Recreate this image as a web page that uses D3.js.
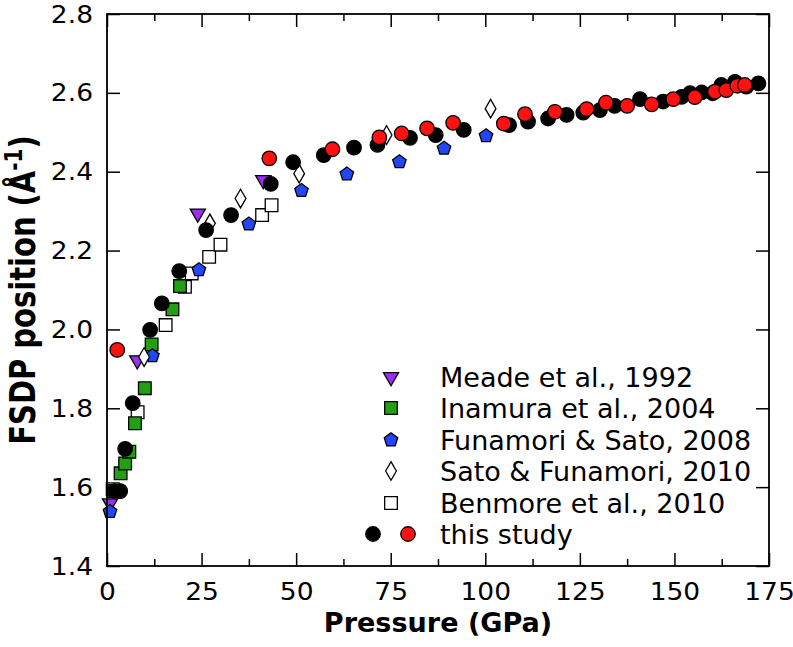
<!DOCTYPE html>
<html>
<head>
<meta charset="utf-8">
<script src="https://cdn.jsdelivr.net/npm/d3@7"></script>
<style>
  html, body { margin: 0; padding: 0; background: #fff; }
  svg { display: block; }
  text { font-family: "DejaVu Sans", sans-serif; fill: #000; }
</style>
</head>
<body>
<svg id="chart" width="793" height="647"></svg>
<script>
// ---------- data ----------
const xTicks = [0, 25, 50, 75, 100, 125, 150, 175];
const xMinorTicks = [12.5, 37.5, 62.5, 87.5, 112.5, 137.5, 162.5];
const yTicks = [1.4, 1.6, 1.8, 2.0, 2.2, 2.4, 2.6, 2.8];

const benmore = [[1.5,1.595],[8.1,1.790],[15.5,2.011],[20.6,2.108],[22.4,2.142],[27.0,2.184],[30.0,2.215],[41.0,2.290],[43.5,2.315]];
const meade = [[0.8,1.559],[8.0,1.922],[24.0,2.294],[41.3,2.379]];
const inamura = [[1.8,1.59],[3.6,1.635],[4.8,1.660],[5.9,1.690],[7.4,1.762],[10.0,1.851],[11.8,1.962],[17.3,2.051],[19.3,2.110]];
const funamori = [[0.8,1.538],[12.0,1.933],[24.3,2.151],[37.5,2.267],[51.4,2.352],[63.4,2.394],[77.3,2.425],[89.1,2.459],[100.2,2.491]];
const sato = [[9.8,1.93],[27.2,2.269],[35.3,2.332],[50.8,2.395],[73.9,2.493],[101.4,2.560]];
const studyBlack = [[2.0,1.59],[3.5,1.59],[4.8,1.697],[6.8,1.813],[11.4,1.999],[14.5,2.066],[19.1,2.148],[26.2,2.252],[32.8,2.290],[43.3,2.369],[49.2,2.424],[57.3,2.442],[65.3,2.461],[71.5,2.468],[80.1,2.486],[86.9,2.493],[94.3,2.506],[106.3,2.518],[111.3,2.527],[116.6,2.535],[121.5,2.544],[125.9,2.550],[130.3,2.556],[134.2,2.567],[140.9,2.584],[147.0,2.578],[151.9,2.590],[154.1,2.599],[157.2,2.601],[160.1,2.599],[162.4,2.620],[166.0,2.628],[169.0,2.616],[172.2,2.624]];
const studyRed = [[2.7,1.948],[42.9,2.434],[59.6,2.457],[72.0,2.487],[77.9,2.497],[84.6,2.510],[91.5,2.524],[104.9,2.522],[110.5,2.546],[118.4,2.552],[126.8,2.559],[131.9,2.575],[137.5,2.567],[144.0,2.571],[149.7,2.584],[155.4,2.589],[160.7,2.603],[163.7,2.607],[166.6,2.618],[168.6,2.620]];

const legendLabels = ["Meade et al., 1992", "Inamura et al., 2004", "Funamori & Sato, 2008", "Sato & Funamori, 2010", "Benmore et al., 2010", "this study"];

// ---------- layout ----------
const svg = d3.select("#chart");
const pLeft = 107, pRight = 769, pTop = 14, pBottom = 566;
const x = d3.scaleLinear().domain([0, 175]).range([pLeft, pRight]);
const y = d3.scaleLinear().domain([1.4, 2.8]).range([pBottom, pTop]);

const purple = "#9b2ff0", green = "#23a012", blue = "#2346f7", red = "#ff1111";

// pentagon symbol
const symbolPentagon = {
  draw(ctx, size) {
    const r = Math.sqrt(size / 2.3776);
    for (let i = 0; i < 5; i++) {
      const a = -Math.PI / 2 + i * 2 * Math.PI / 5;
      const px = r * Math.cos(a), py = r * Math.sin(a);
      if (i === 0) ctx.moveTo(px, py); else ctx.lineTo(px, py);
    }
    ctx.closePath();
  }
};

const styles = {
  benmore:  { type: d3.symbolSquare, size: 160, fill: "#fff", rot: 0 },
  meade:    { type: d3.symbolTriangle, size: 100, fill: purple, rot: 180 },
  inamura:  { type: d3.symbolSquare, size: 160, fill: green, rot: 0 },
  funamori: { type: symbolPentagon, size: 120, fill: blue, rot: 0 },
  sato:     { type: d3.symbolDiamond, size: 100, fill: "#fff", rot: 0 },
  black:    { type: d3.symbolCircle, size: 165, fill: "#000", rot: 0 },
  red:      { type: d3.symbolCircle, size: 165, fill: red, rot: 0 }
};

function drawSeries(data, st) {
  const sym = d3.symbol().type(st.type).size(st.size);
  svg.append("g").selectAll("path").data(data).join("path")
    .attr("d", sym)
    .attr("transform", d => `translate(${x(d[0])},${y(d[1])}) rotate(${st.rot})`)
    .attr("fill", st.fill)
    .attr("stroke", "#000")
    .attr("stroke-width", 1.3);
}

function stretch(sel, sx) {
  sel.each(function () {
    const L = this.getComputedTextLength();
    d3.select(this).attr("textLength", L * sx).attr("lengthAdjust", "spacingAndGlyphs");
  });
}

// ---------- axes ----------
function styleAxis(g) {
  g.select(".domain").remove();
  g.selectAll("line").attr("stroke", "#000").attr("stroke-width", 1.5);
  g.selectAll("text").attr("font-size", 25).attr("font-family", "DejaVu Sans").attr("fill", "#000");
  stretch(g.selectAll("text"), 1.06);
}
svg.append("g").attr("transform", `translate(0,${pBottom})`)
  .call(d3.axisBottom(x).tickValues(xTicks).tickSize(-13).tickPadding(16).tickFormat(d3.format("d"))).call(styleAxis);
svg.append("g").attr("transform", `translate(0,${pBottom})`)
  .call(d3.axisBottom(x).tickValues(xMinorTicks).tickSize(-7).tickFormat("")).call(styleAxis);
svg.append("g").attr("transform", `translate(0,${pTop})`)
  .call(d3.axisTop(x).tickValues(xTicks).tickSize(-13).tickFormat("")).call(styleAxis);
svg.append("g").attr("transform", `translate(0,${pTop})`)
  .call(d3.axisTop(x).tickValues(xMinorTicks).tickSize(-7).tickFormat("")).call(styleAxis);
svg.append("g").attr("transform", `translate(${pLeft},0)`)
  .call(d3.axisLeft(y).tickValues(yTicks).tickSize(-13).tickPadding(14).tickFormat(d3.format(".1f"))).call(styleAxis);
svg.append("g").attr("transform", `translate(${pRight},0)`)
  .call(d3.axisRight(y).tickValues(yTicks).tickSize(-13).tickFormat("")).call(styleAxis);

// ---------- data marks ----------
drawSeries(benmore, styles.benmore);
drawSeries(meade, styles.meade);
drawSeries(inamura, styles.inamura);
drawSeries(funamori, styles.funamori);
drawSeries(sato, styles.sato);
drawSeries(studyBlack, styles.black);
drawSeries(studyRed, styles.red);

// frame
svg.append("rect").attr("x", pLeft).attr("y", pTop).attr("width", pRight - pLeft).attr("height", pBottom - pTop)
  .attr("fill", "none").attr("stroke", "#000").attr("stroke-width", 1.8);

// ---------- axis titles ----------
const xl = svg.append("text").attr("x", (pLeft + pRight) / 2).attr("y", 632)
  .attr("text-anchor", "middle").attr("font-weight", "bold").attr("font-size", 26)
  .text("Pressure (GPa)");
stretch(xl, 1.04);

const yl = svg.append("text").attr("transform", "translate(35,290) scale(1.2,1) rotate(-90)")
  .attr("text-anchor", "middle").attr("font-weight", "bold").attr("font-size", 29);
yl.append("tspan").text("FSDP position (Å");
yl.append("tspan").attr("dy", -11).attr("font-size", 20).text("-1");
yl.append("tspan").attr("dy", 11).text(")");

// ---------- legend ----------
const legY = [377, 408, 440, 471, 503, 534];
const legKeys = ["meade", "inamura", "funamori", "sato", "benmore"];
legKeys.forEach((k, i) => {
  const st = styles[k];
  svg.append("path").attr("d", d3.symbol().type(st.type).size(st.size)())
    .attr("transform", `translate(391,${legY[i]}) rotate(${st.rot})`)
    .attr("fill", st.fill).attr("stroke", "#000").attr("stroke-width", 1.3);
});
[["black", 373], ["red", 408]].forEach(([k, cx]) => {
  const st = styles[k];
  svg.append("path").attr("d", d3.symbol().type(st.type).size(st.size)())
    .attr("transform", `translate(${cx},${legY[5]})`)
    .attr("fill", st.fill).attr("stroke", "#000").attr("stroke-width", 1.3);
});
svg.append("g").selectAll("text").data(legendLabels).join("text")
  .attr("x", 440).attr("y", (d, i) => legY[i]).attr("dy", "0.36em")
  .attr("font-size", 27).text(d => d);
</script>
</body>
</html>
